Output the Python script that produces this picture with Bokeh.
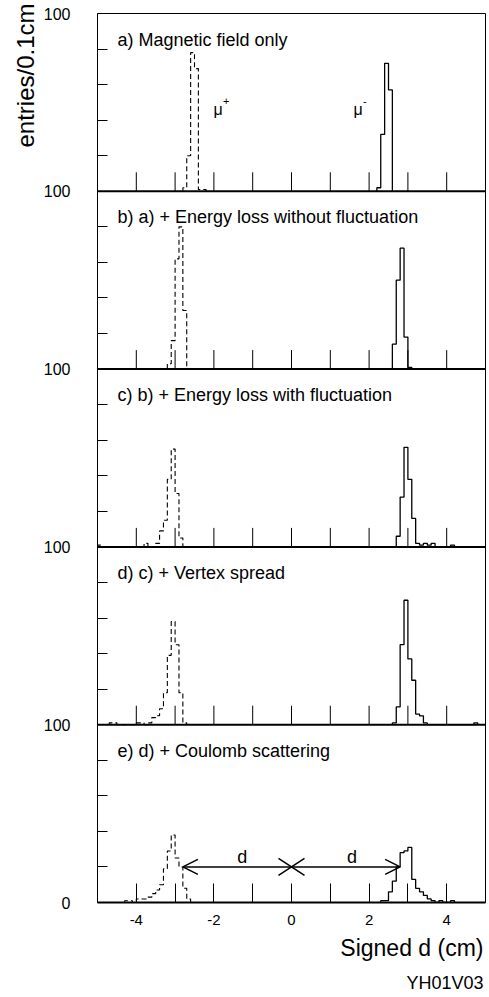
import numpy as np
from bokeh.plotting import figure
from bokeh.models import FixedTicker, Label, Arrow, OpenHead, Span, Title
from bokeh.embed import file_html
from bokeh.resources import INLINE

# ---------------- data (entries per 0.1 cm bin) ----------------
BIN = 0.1
panel_titles = [
    "a) Magnetic field only",
    "b) a) + Energy loss without fluctuation",
    "c) b) + Energy loss with fluctuation",
    "d) c) + Vertex spread",
    "e) d) + Coulomb scattering",
]
# mu+ (dashed): first bin left edge and counts of consecutive bins
a_plus_start = -2.8
a_plus = [2, 20, 78, 69, 1, 1]
b_plus_start = -3.2
b_plus = [3, 16, 62, 80, 33]
c_plus_start = -5.0
c_plus = [1, 0, 0, 0, 0, 0, 0, 0, 0, 0, 0, 0, 2, 0, 0, 2, 9, 15, 38, 55, 30, 5]
d_plus_start = -4.7
d_plus = [1, 1, 0, 0, 0, 0, 0, 1, 1, 0, 1, 4, 5, 9, 18, 39, 58, 45, 18, 1]
e_plus_start = -4.3
e_plus = [1, 1, 0, 2, 2, 2, 3, 5, 7, 10, 19, 29, 38, 25, 20, 8, 2]
# mu- (solid)
a_minus_start = 2.2
a_minus = [2, 32, 72, 57]
b_minus_start = 2.6
b_minus = [14, 50, 68, 18, 1]
c_minus_start = 2.7
c_minus = [6, 28, 56, 38, 16, 2, 1, 2, 1, 2, 0, 0, 0, 0, 1]
d_minus_start = 2.6
d_minus = [1, 10, 45, 70, 37, 25, 6, 5, 1, 0, 0, 0, 0, 0, 0, 0, 0, 0, 0, 0, 0, 1]
e_minus_start = 2.3
e_minus = [1, 1, 6, 12, 20, 28, 29, 31, 13, 8, 6, 4, 2, 1, 0, 1, 0, 0, 1]

plus_series = [(a_plus_start, a_plus), (b_plus_start, b_plus), (c_plus_start, c_plus),
               (d_plus_start, d_plus), (e_plus_start, e_plus)]
minus_series = [(a_minus_start, a_minus), (b_minus_start, b_minus), (c_minus_start, c_minus),
                (d_minus_start, d_minus), (e_minus_start, e_minus)]

x_ticks = [-4, -3, -2, -1, 0, 1, 2, 3, 4]
x_tick_labels = {-4: "-4", -3: "", -2: "-2", -1: "", 0: "0", 1: "", 2: "2", 3: "", 4: "4"}
PANEL_MAX = 100
y_minor = [20, 40, 60, 80]

# separation arrow in panel e
d_arrow_y = 20
d_arrow_half = 2.8
d_label_x = [-1.27, 1.56]
d_label_y = 25.5

# ---------------- layout ----------------
W, H = 489, 997
LEFT, RIGHT, TOP, BOTTOM = 97, 4, 13, 95
FRAME_H = H - TOP - BOTTOM
NP = len(panel_titles)
YMAX = NP * PANEL_MAX
px_per_y = FRAME_H / YMAX
FONT = "Liberation Sans"

p = figure(width=W, height=H, x_range=(-5, 5), y_range=(0, YMAX),
           output_backend="svg", toolbar_location=None, title=None,
           min_border_left=LEFT, min_border_right=RIGHT,
           min_border_top=TOP, min_border_bottom=BOTTOM)
p.grid.visible = False
p.outline_line_color = "black"
p.outline_line_width = 1
p.background_fill_color = "white"
p.border_fill_color = "white"

# y axis
bases = [(NP - 1 - i) * PANEL_MAX for i in range(NP)]
yt = [k * PANEL_MAX for k in range(NP + 1)]
ymin = [b + m for b in sorted(bases) for m in y_minor]
p.yaxis.ticker = FixedTicker(ticks=yt, minor_ticks=ymin)
p.yaxis.major_label_overrides = {t: ("0" if t == 0 else str(PANEL_MAX)) for t in yt}
p.yaxis.major_tick_in = 0
p.yaxis.major_tick_out = 0
p.yaxis.minor_tick_in = 10
p.yaxis.minor_tick_out = 0
p.yaxis.minor_tick_line_color = "black"
p.yaxis.axis_line_width = 1
p.yaxis.major_label_standoff = 27
p.yaxis.major_label_text_font = FONT
p.yaxis.major_label_text_font_size = "16px"
p.yaxis.major_label_text_color = "black"

# x axis
p.xaxis.ticker = FixedTicker(ticks=x_ticks)
p.xaxis.major_label_overrides = x_tick_labels
p.xaxis.major_tick_in = 19
p.xaxis.major_tick_out = 0
p.xaxis.minor_tick_in = 0
p.xaxis.minor_tick_out = 0
p.xaxis.axis_line_width = 2
p.xaxis.major_label_standoff = 12
p.xaxis.major_label_text_font = FONT
p.xaxis.major_label_text_font_size = "15px"
p.xaxis.major_label_text_color = "black"

# axis titles and tag (as side titles so they are not clipped by the frame)
p.add_layout(Title(text="Signed d (cm)", align="right", text_font=FONT, text_font_size="23px",
                   text_font_style="normal", text_color="black", standoff=11, offset=2), "below")
p.add_layout(Title(text="YH01V03", align="right", text_font=FONT, text_font_size="18px",
                   text_font_style="normal", text_color="black", standoff=9, offset=2), "below")
p.add_layout(Title(text="entries/0.1cm", align="right", text_font=FONT, text_font_size="24px",
                   text_font_style="normal", text_color="black", standoff=4, offset=-10), "left")

# panel separators and their upward ticks
tick_len = 19 / px_per_y
for b in bases[:-1]:
    p.add_layout(Span(location=b, dimension="width", line_color="black", line_width=2))
    p.segment(x0=x_ticks, y0=[b] * len(x_ticks), x1=x_ticks, y1=[b + tick_len] * len(x_ticks),
              line_color="black", line_width=1)


def outline(start, counts, base):
    counts = np.asarray(counts, dtype=float)
    edges = start + BIN * np.arange(len(counts) + 1)
    xs = np.repeat(edges, 2)
    ys = np.concatenate([[0.0], np.repeat(counts, 2), [0.0]]) + base
    return xs, ys


for i in range(NP):
    base = bases[i]
    xs, ys = outline(*plus_series[i], base)
    p.line(xs, ys, line_color="black", line_width=1.1, line_dash="5 3")
    xs, ys = outline(*minus_series[i], base)
    p.line(xs, ys, line_color="black", line_width=1.3)
    p.add_layout(Label(x=-5, y=base + PANEL_MAX, x_offset=20, y_offset=-26, text=panel_titles[i],
                       text_font=FONT, text_font_size="18px", text_baseline="alphabetic",
                       text_color="black"))

# mu labels in panel a
mu_y = bases[0] + 46
for mx, sign in [(-2.01, "+"), (1.6, "-")]:
    p.add_layout(Label(x=mx, y=mu_y, text="\u03bc", text_font=FONT, text_font_size="16px",
                       text_baseline="alphabetic", text_color="black"))
    p.add_layout(Label(x=mx, y=mu_y, x_offset=9.5, y_offset=8.5, text=sign, text_font=FONT,
                       text_font_size="11px", text_baseline="middle", text_color="black"))

# d arrows in panel e
eb = bases[-1]
for sgn in (-1, 1):
    p.add_layout(Arrow(end=OpenHead(size=15, line_width=1.5, line_color="black"),
                       x_start=0, y_start=eb + d_arrow_y, x_end=sgn * d_arrow_half, y_end=eb + d_arrow_y,
                       line_width=1.5, line_color="black"))
xdx = 13 / (388 / 10)
xdy = 8.5 / px_per_y
p.segment(x0=[-xdx, -xdx], y0=[eb + d_arrow_y - xdy, eb + d_arrow_y + xdy],
          x1=[xdx, xdx], y1=[eb + d_arrow_y + xdy, eb + d_arrow_y - xdy],
          line_color="black", line_width=1.5)
for lx in d_label_x:
    p.add_layout(Label(x=lx, y=eb + d_label_y, text="d", text_font=FONT, text_font_size="18px",
                       text_align="center", text_baseline="alphabetic", text_color="black"))

open("out.html", "w").write(file_html(p, INLINE))
